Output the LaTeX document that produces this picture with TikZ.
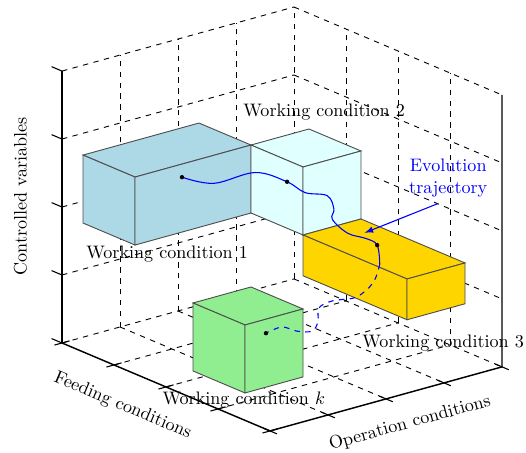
\documentclass[tikz,border=0pt]{standalone}
\usepackage{amsmath}
\usepackage{xcolor}
\usepackage{tikz}
\usetikzlibrary{calc}
\usetikzlibrary{arrows}
\tikzset{>=latex}

\definecolor{wcblue}{RGB}{173,216,230}
\definecolor{wccyan}{RGB}{224,255,255}
\definecolor{wcgold}{RGB}{255,213,0}
\definecolor{wcgreen}{RGB}{144,238,144}

\tikzset{
	boxedge/.style={draw=black!70, line width=0.5pt},
	gridline/.style={black, dashed, line width=0.5pt},
	axisline/.style={black, line width=0.8pt},
	tickline/.style={black, line width=0.6pt},
	traj/.style={blue, line width=0.6pt},
}

% cuboid at (x,y,z) with sizes (dx,dy,dz): top, left and front faces
\newcommand{\cuboid}[7]{%
	\filldraw[boxedge, fill=#7] (#1,#2,#3+#6) -- ++(#4,0,0) -- ++(0,#5,0) -- ++(-#4,0,0) -- cycle;
	\filldraw[boxedge, fill=#7] (#1,#2,#3) -- ++(#4,0,0) -- ++(0,0,#6) -- ++(-#4,0,0) -- cycle;
	\filldraw[boxedge, fill=#7] (#1+#4,#2,#3) -- ++(0,#5,0) -- ++(0,0,#6) -- ++(0,-#5,0) -- cycle;
}

\begin{document}
\begin{tikzpicture}[x={(1.01cm,-0.427cm)}, y={(1.126cm,0.311cm)}, z={(0cm,1.32cm)}]
	
	\pgfmathtruncatemacro{\nb}{4}
	\pgfmathsetmacro{\tk}{0.2}
	\pgfmathsetmacro{\tc}{0.13}
	
	\useasboundingbox (-1.204cm,-2.117cm) rectangle (9.010cm,6.660cm);
	
	\coordinate[](o) at (0,0,0);
	\coordinate[](f) at (\nb,0,0);
	\coordinate[](g) at (\nb,\nb,0);
	\coordinate[](h) at (\nb,\nb,\nb);
	\coordinate[](v) at (0,0,\nb);
	
	% Griglia
	\draw[gridline] (o) -- (0,\nb,0);
	\foreach \i in {1,...,4}
	{
	\draw[gridline] (0,\i,0) -- (0,\i,\nb);
	\draw[gridline] (0,0,\i) -- (0,\nb,\i);
	\draw[gridline] (0,\nb,\i) -- (\nb,\nb,\i);
	\draw[gridline] (0,\i,0) -- (\nb,\i,0);
	}
	\foreach \i in {1,2,3}
	{
	\draw[gridline] (\i,\nb,0) -- (\i,\nb,\nb);
	\draw[gridline] (\i,0,0) -- (\i,\nb,0);
	}
	
	%% Axes
	\draw[axisline] (o) -- (v);
	\draw[axisline] (o) -- (f) -- (g) -- (h);
	\foreach \i in {0,...,4}
	{
	\draw[tickline] (0,0,\i) -- (-\tk,0,\i);
	\draw[tickline] (\i,-\tc,0) -- (\i,\tc,0);
	\draw[tickline] (\nb-\tc,\i,0) -- (\nb+\tc,\i,0);
	}
	
	\node[rotate=90] (cv) at (-0.8,0,1.9) {Controlled variables};
	\node[rotate=-22.9] (fc) at (2,-0.75,-0.1) {Feeding conditions};
	\node[rotate=15.4] (oc) at (4.85,1.65,0) {Operation conditions};
	
	%% Working conditions
	\cuboid{0.404}{0}{1.895}{1}{2}{1}{wcblue}
	\cuboid{1.404}{2}{1.895}{1}{1}{1}{wccyan}
	\cuboid{2.404}{2}{1.295}{2}{1}{0.6}{wcgold}
	\cuboid{1.765}{0.676}{0}{1}{1}{1}{wcgreen}
	
	\begin{scope}[x=1cm, y=1cm]
	
	\node (wc1) at (2.04,1.73) {Working condition 1};
	\node (wc2) at (5.09,4.49) {Working condition 2};
	\node (wc3) at (7.40,0.00) {Working condition 3};
	\node (wck) at (3.53,-1.11) {Working condition $k$};
	
	% Traiettoria
	\coordinate[](p1) at (2.33,3.22);
	\coordinate[](p2) at (4.37,3.13);
	\coordinate[](p3) at (6.12,1.90);
	\coordinate[](p4) at (3.96,0.19);
	\coordinate[](c1) at (6.17,1.53);
	\coordinate[](tip) at (5.88,2.14);
	
	\draw[traj] plot[smooth, tension=0.6] coordinates
	{(p1) (2.95,3.10) (3.75,3.31) (p2) (4.72,2.92) (5.15,2.86) (5.28,2.60)
	(5.25,2.40) (5.55,2.13) (5.90,2.03) (p3) (c1)};
	\draw[traj, dashed] plot[smooth, tension=0.6] coordinates
	{(c1) (6.04,1.17) (5.71,0.89) (5.26,0.82) (4.99,0.68) (4.97,0.41)
	(4.85,0.23) (4.56,0.23) (4.27,0.31) (p4)};
	
	\foreach \p in {p1,p2,p3,p4}
	{
	\fill[black] (\p) circle (1.2pt);
	}
	
	\node[blue, align=center] (evo) at (7.50,3.20) {Evolution\\trajectory};
	\draw[->, traj] ([xshift=-0.2cm]evo.south) -- (tip);
	
	\end{scope}
	
\end{tikzpicture}
\end{document}
